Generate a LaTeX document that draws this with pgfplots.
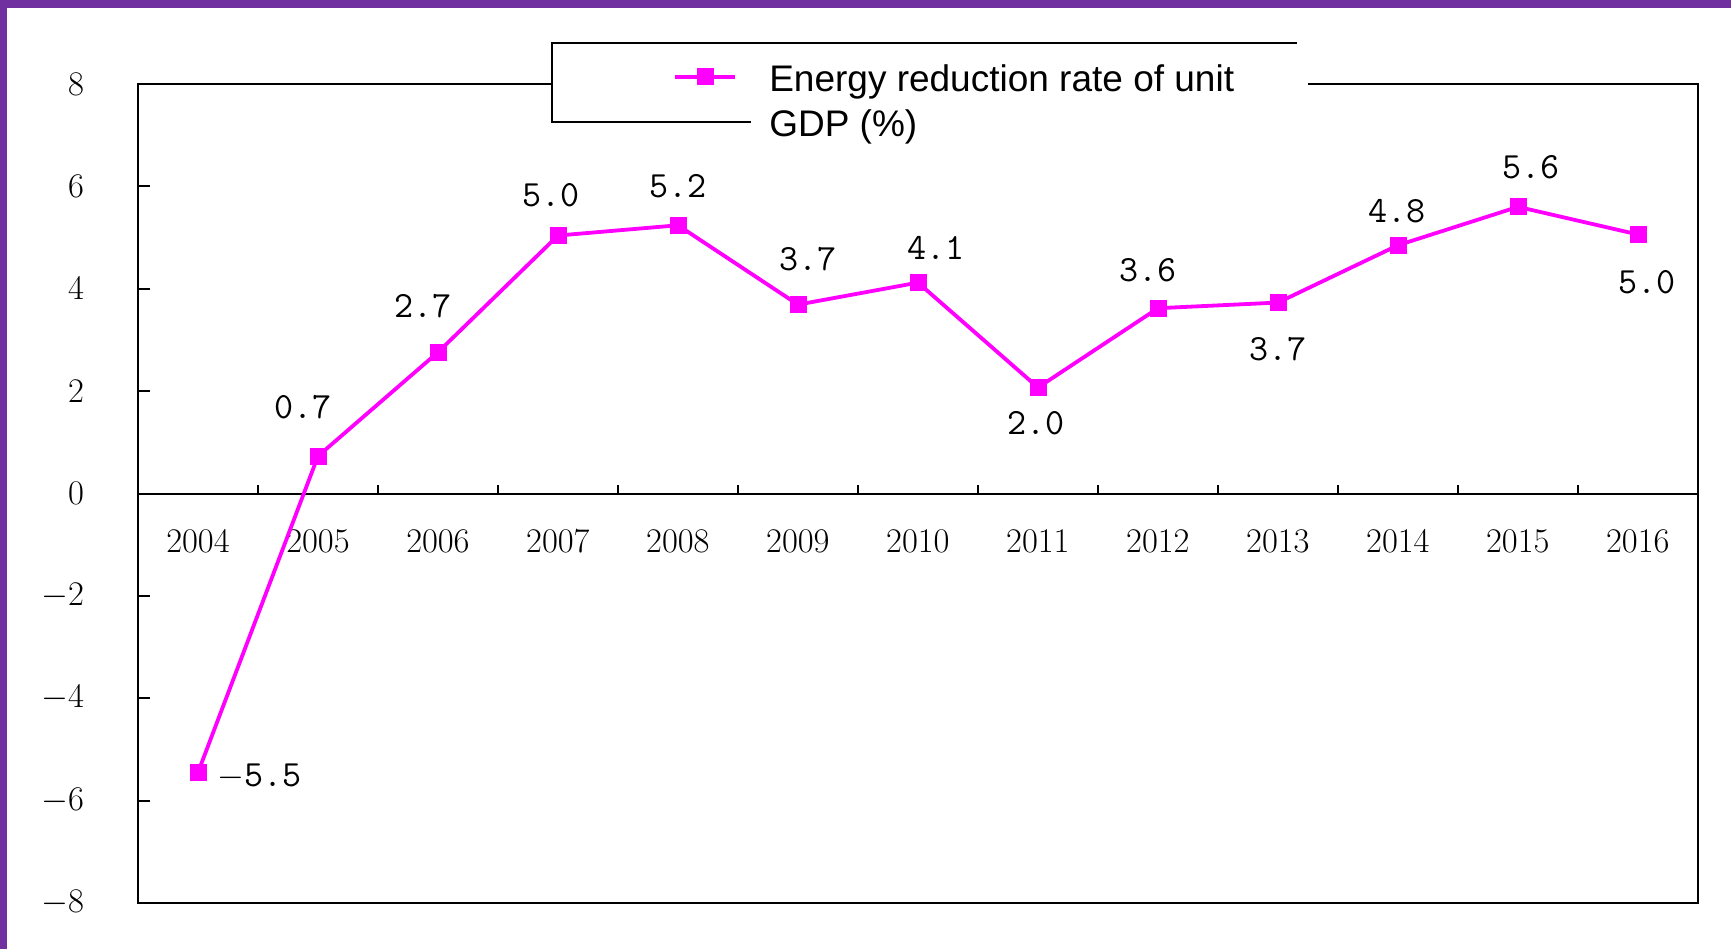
\documentclass[border=0pt]{standalone}
\usepackage{fontspec}
\setmainfont{Liberation Sans}
\usepackage{pgfplots}
\pgfplotsset{compat=1.18}
\definecolor{framepurple}{RGB}{112,48,160}
\definecolor{mag}{RGB}{255,0,255}
\def\mn{$-$}
\begin{document}
\begin{tikzpicture}
\useasboundingbox (0,0) rectangle (865.5pt,474.5pt);
\fill[white] (0,0) rectangle (865.5pt,474.5pt);
\begin{axis}[
  at={(69pt,23pt)}, anchor=south west,
  scale only axis, width=780pt, height=409.5pt,
  xmin=2003.5, xmax=2016.5, ymin=-8, ymax=8,
  axis x line=middle, axis y line=left,
  axis line style={-, line width=1pt, black},
  hide obscured x ticks=false, hide obscured y ticks=false,
  xtick={2004,...,2016}, major x tick style={draw=none},
  x tick label style={font=\fontsize{18}{21}\selectfont, yshift=-15pt, /pgf/number format/1000 sep=},
  ytick={-8,-6,...,8},
  y tick label style={font=\fontsize{18}{21}\selectfont, xshift=-23.5pt},
  tick align=inside, major tick length=6pt,
  y tick style={line width=1pt, black},
  clip=false,
  legend style={at={(0.343,1.035)}, anchor=north west, draw=none, fill=none,
    inner sep=0pt, font=\fontsize{18.5}{22.5}\selectfont,
    /tikz/every odd column/.append style={column sep=14pt}},
  legend cell align=left,
  legend image code/.code={\draw[#1] (0pt,0pt) -- (30pt,0pt); \draw[#1, only marks] plot coordinates {(15pt,0pt)};},
]
\draw[line width=1pt] (rel axis cs:0,0) rectangle (rel axis cs:1,1);
\pgfplotsinvokeforeach{2004.5,2005.5,2006.5,2007.5,2008.5,2009.5,2010.5,2011.5,2012.5,2013.5,2014.5,2015.5}{
  \draw[line width=1pt] (axis cs:#1,0) -- ++(0pt,4.5pt);
}
\fill[white] (axis cs:2006.95,7.258) rectangle (axis cs:2013.25,8.80);
\draw[line width=1pt] (axis cs:2013.158,8.80) -- (axis cs:2006.95,8.80) -- (axis cs:2006.95,7.258) -- (axis cs:2008.608,7.258);
\addplot[mag, line width=1.9pt, mark=square*, mark size=3.3pt,
  mark options={solid, fill=mag, draw=mag},
  point meta=explicit symbolic,
  visualization depends on={\thisrow{dx} \as \dx},
  visualization depends on={\thisrow{dy} \as \dy},
  nodes near coords,
  nodes near coords style={black, anchor=center, font=\ttfamily\fontsize{18.5}{20}\selectfont, xshift=\dx pt, yshift=\dy pt},
] table[x=x, y=y, meta=lab] {
x y lab dx dy
2004 -5.45 \mn5.5 30.9 -2.2
2005 0.73 0.7 -7.7 24.3
2006 2.76 2.7 -7.7 23.2
2007 5.04 5.0 -3.3 20.4
2008 5.24 5.2 0 19.3
2009 3.69 3.7 5 22.6
2010 4.12 4.1 8.8 17.1
2011 2.07 2.0 -1.1 -17.7
2012 3.62 3.6 -5 18.8
2013 3.73 3.7 0 -23.2
2014 4.85 4.8 -0.6 17.1
2015 5.60 5.6 6.6 19.9
2016 5.06 5.0 4.4 -23.7
};
\addlegendentry{\begin{tabular}[t]{@{}l@{}}Energy reduction rate of unit\\GDP (\%)\end{tabular}}
\end{axis}
\fill[framepurple] (0,470.5pt) rectangle (865.5pt,474.5pt);
\fill[framepurple] (0,0) rectangle (3.5pt,474.5pt);
\end{tikzpicture}
\end{document}
